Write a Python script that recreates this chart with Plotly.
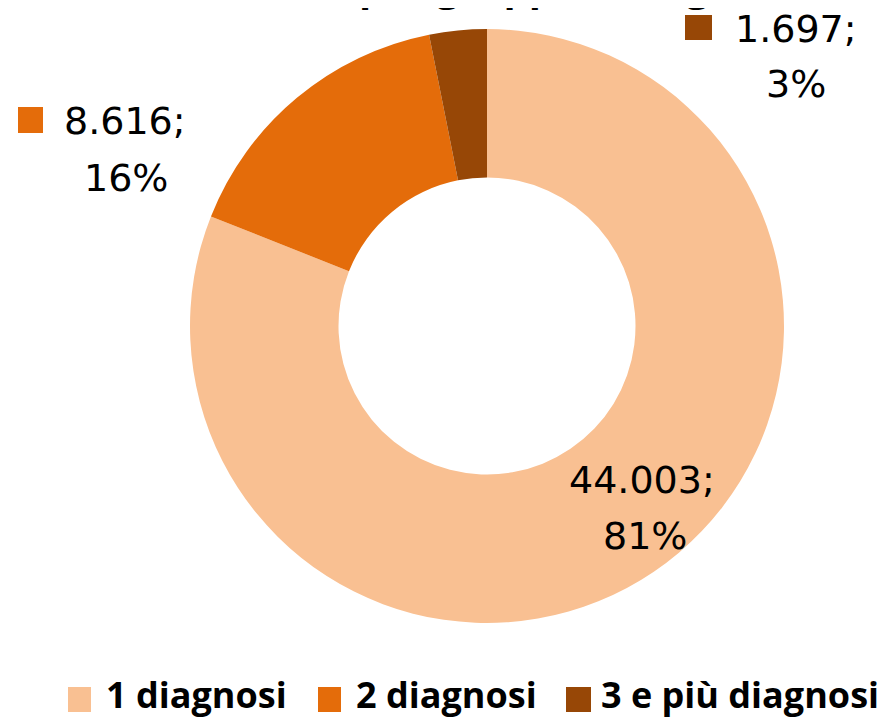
import plotly.graph_objects as go

categories = ["1 diagnosi", "2 diagnosi", "3 e più diagnosi"]
values = [44003, 8616, 1697]
colors = ["#F9C092", "#E46C0A", "#974706"]
title_text = "Pazienti per gruppi di diagnosi"

total = sum(values)
pcts = [round(v / total * 100) for v in values]
def fmt(v):
    return f"{v:,}".replace(",", ".")

# figure size (page has an 8px body margin)
OFF = 8
W, H = 886, 710
L, T, R, B = 182, 21, 110, 95
PW, PH = W - L - R, H - T - B

def fx(x):  # page pixel -> paper x
    return (x - OFF - L) / PW
def fy(y):  # page pixel -> paper y
    return 1 - (y - OFF - T) / PH

fig = go.Figure(go.Pie(
    labels=categories, values=values, hole=0.5, sort=False,
    direction="clockwise", rotation=0,
    marker=dict(colors=colors, line=dict(width=0)),
    textinfo="none", hoverinfo="label+value+percent", showlegend=False,
))

lab_font = dict(family="DejaVu Sans", size=38, color="#000000")
ann, shapes = [], []
# slice labels: centre of line 1, centre of line 2, optional key square
pos = [((642, 480), (645, 536), None),
       ((125, 121), (126, 178), (18, 107, 43, 133)),
       ((796, 29), (796, 84), (685, 15, 712, 40))]
for i, ((x1, y1), (x2, y2), sq) in enumerate(pos):
    ann.append(dict(x=fx(x1), y=fy(y1), xref="paper", yref="paper", text=f"{fmt(values[i])};",
                    showarrow=False, font=lab_font, xanchor="center", yanchor="middle"))
    ann.append(dict(x=fx(x2), y=fy(y2), xref="paper", yref="paper", text=f"{pcts[i]}%",
                    showarrow=False, font=lab_font, xanchor="center", yanchor="middle"))
    if sq:
        shapes.append(dict(type="rect", xref="paper", yref="paper",
                           x0=fx(sq[0]), x1=fx(sq[2]), y0=fy(sq[3]), y1=fy(sq[1]),
                           fillcolor=colors[i], line=dict(width=0)))

# legend
leg_font = dict(family="Open Sans", size=36, color="#000000")
leg_sq = [(68, 91), (318, 341), (566, 591)]
leg_tx = [104, 354, 599]
for i, c in enumerate(categories):
    shapes.append(dict(type="rect", xref="paper", yref="paper",
                       x0=fx(leg_sq[i][0]), x1=fx(leg_sq[i][1]), y0=fy(712), y1=fy(687),
                       fillcolor=colors[i], line=dict(width=0)))
    ann.append(dict(x=fx(leg_tx[i]), y=fy(695), xref="paper", yref="paper",
                    text=f"<b>{c}</b>", showarrow=False, font=leg_font,
                    xanchor="left", yanchor="middle"))

# title (cut off at the top of the image, as in the reference)
ann.append(dict(x=fx(490), y=fy(15), xref="paper", yref="paper", text=f"<b>{title_text}</b>",
                showarrow=False, font=dict(family="Open Sans", size=40, color="#000"),
                xanchor="center", yanchor="bottom"))

fig.update_layout(
    width=W, height=H, paper_bgcolor="white", plot_bgcolor="white",
    margin=dict(l=L, r=R, t=T, b=B),
    annotations=ann, shapes=shapes,
)
fig.write_html("out.html")
